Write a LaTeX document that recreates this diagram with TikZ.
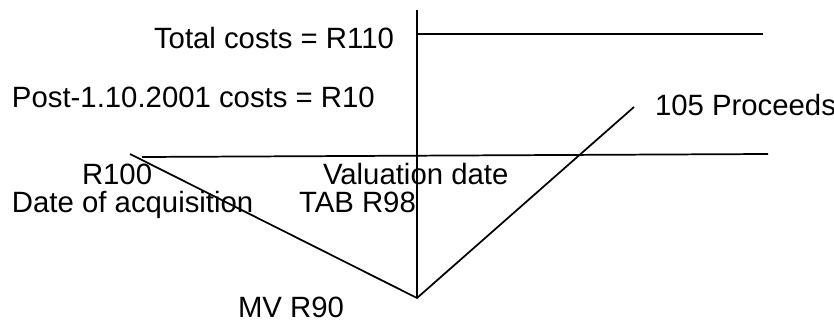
\documentclass[tikz,border=0pt]{standalone}
\usepackage{fontspec}
\setmainfont{Liberation Sans}
\begin{document}
\begin{tikzpicture}[x=0.75pt,y=-0.75pt,
  lbl/.style={anchor=base west,inner sep=0pt,outer sep=0pt,font=\fontsize{22}{26}\selectfont},
  ln/.style={line width=1.3pt,line cap=butt}]
\useasboundingbox (0,0) rectangle (834,320);
% coordinates
\coordinate (vtop) at (417,10);
\coordinate (vbot) at (417,298);
\coordinate (tl) at (418,34);
\coordinate (tr) at (763,34);
\coordinate (ml) at (142,157);
\coordinate (mr) at (768,154);
\coordinate (dl) at (130,154);
\coordinate (dr) at (634,107);
% lines
\draw[ln] (vtop) -- (vbot);
\draw[ln] (tl) -- (tr);
\draw[ln] (ml) -- (mr);
\draw[ln] (dl) -- (vbot) -- (dr);
% labels
\node[lbl] (total) at (154,49) {Total costs = R110};
\node[lbl] (post) at (12,108) {Post-1.10.2001 costs = R10};
\node[lbl] (proc) at (655,116) {105 Proceeds};
\node[lbl] (r100) at (82,185) {R100};
\node[lbl] (val) at (323,185) {Valuation date};
\node[lbl] (doa) at (12,213) {Date of acquisition};
\node[lbl] (tab) at (299,213) {TAB R98};
\node[lbl] (mv) at (238,317) {MV R90};
\end{tikzpicture}
\end{document}
